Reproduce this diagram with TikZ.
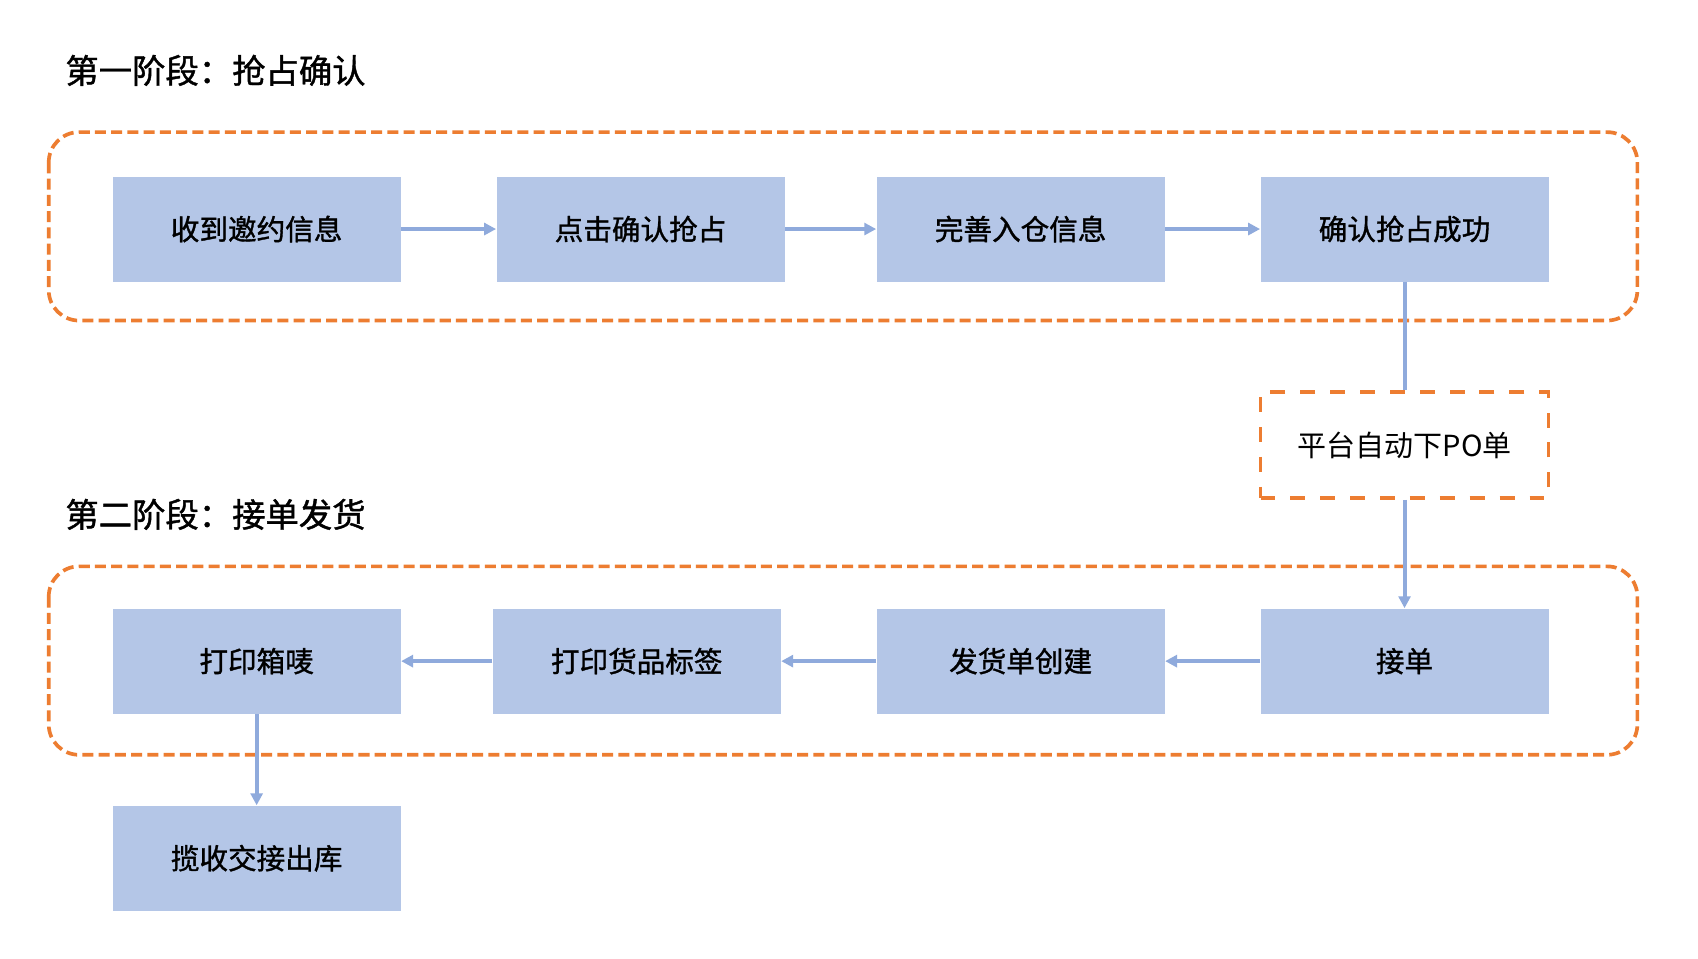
\documentclass[tikz,border=0pt]{standalone}
\usepackage{fontspec}
\newfontfamily\cjk{Noto Sans CJK SC}
\newfontfamily\cjkm{Noto Sans CJK SC}[FakeBold=1.2]
\usetikzlibrary{arrows.meta}
\definecolor{boxblue}{HTML}{B4C6E7}
\definecolor{arrowblue}{HTML}{8FAADC}
\definecolor{dashorange}{HTML}{ED7D31}
\begin{document}
\begin{tikzpicture}[x=0.5pt,y=-0.5pt,
  stepbox/.style={fill=boxblue, draw=none, minimum width=133pt, minimum height=48.5pt, inner sep=0pt, font=\cjkm\fontsize{13.2pt}{15pt}\selectfont},
  pobox/.style={draw=dashorange, line width=1.55pt, dash pattern=on 6.9pt off 6.9pt, minimum width=133pt, minimum height=49pt, inner sep=0pt, font=\cjk\fontsize{13.4pt}{15pt}\selectfont},
  stage/.style={draw=dashorange, line width=1.7pt, dash pattern=on 5.1pt off 2.4pt, rounded corners=14pt},
  title/.style={anchor=west, inner sep=0pt, font=\cjkm\fontsize{15.4pt}{18pt}\selectfont},
  flow/.style={draw=arrowblue, line width=1.8pt, -{Triangle[length=5.5pt,width=5.5pt]}},
  plain/.style={draw=arrowblue, line width=1.8pt}
]
\useasboundingbox (0,0) rectangle (1568,885);
\fill[white] (0,0) rectangle (1568,885);

\node[title] (t1) at (60,65) {第一阶段：抢占确认};
\node[title] (t2) at (60,475) {第二阶段：接单发货};

\draw[stage] (45,122) rectangle (1512,296);
\draw[stage] (45,523) rectangle (1512,697);

\node[stepbox] (a1) at (237,211.5) {收到邀约信息};
\node[stepbox] (a2) at (591.5,211.5) {点击确认抢占};
\node[stepbox] (a3) at (942.5,211.5) {完善入仓信息};
\node[stepbox] (a4) at (1297,211.5) {确认抢占成功};

\node[pobox] (po) at (1297,411) {平台自动下PO单};

\node[stepbox] (b1) at (1297,610.5) {接单};
\node[stepbox] (b2) at (942.5,610.5) {发货单创建};
\node[stepbox] (b3) at (588,610.5) {打印货品标签};
\node[stepbox] (b4) at (237,610.5) {打印箱唛};
\node[stepbox] (b5) at (237,792.5) {揽收交接出库};

\draw[flow] (a1) -- (a2);
\draw[flow] (a2) -- (a3);
\draw[flow] (a3) -- (a4);
\draw[plain] (a4) -- (po);
\draw[flow] (po) -- (b1);
\draw[flow] (b1) -- (b2);
\draw[flow] (b2) -- (b3);
\draw[flow] (b3) -- (b4);
\draw[flow] (b4) -- (b5);
\end{tikzpicture}
\end{document}
